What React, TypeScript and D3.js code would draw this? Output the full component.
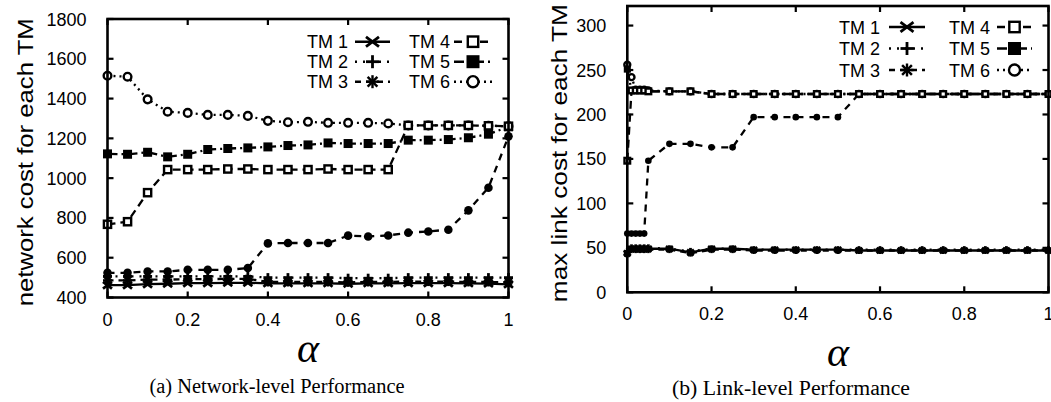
import React from "react";
import * as d3 from "d3";

// ---------- data ----------
const alphaLeft = [0, 0.05, 0.1, 0.15, 0.2, 0.25, 0.3, 0.35, 0.4, 0.45, 0.5, 0.55, 0.6, 0.65, 0.7, 0.75, 0.8, 0.85, 0.9, 0.95, 1.0];
const netTM1 = [462, 462, 467, 469, 472, 472, 474, 474, 471, 471, 471, 471, 469, 471, 471, 472, 472, 472, 471, 470, 466];
const netTM2 = [506, 506, 506, 506, 506, 506, 506, 506, 500, 500, 500, 500, 497, 497, 497, 500, 500, 500, 500, 500, 500];
const netTM3 = [486, 486, 490, 490, 492, 492, 494, 494, 478, 478, 478, 478, 476, 478, 478, 480, 480, 480, 478, 478, 476];
const netTM4 = [768, 781, 927, 1043, 1043, 1043, 1046, 1046, 1043, 1043, 1043, 1046, 1043, 1043, 1043, 1265, 1265, 1265, 1265, 1263, 1261];
const netTM5 = [1122, 1120, 1130, 1107, 1120, 1144, 1149, 1152, 1157, 1164, 1167, 1177, 1174, 1174, 1174, 1191, 1191, 1194, 1203, 1221, 1258];
const netTM6 = [1515, 1510, 1396, 1334, 1328, 1318, 1318, 1313, 1288, 1281, 1283, 1278, 1278, 1278, 1275, 1265, 1265, 1265, 1265, 1263, 1261];
const netExtra = [524, 524, 531, 531, 539, 539, 539, 548, 672, 674, 674, 674, 711, 707, 712, 726, 732, 741, 838, 952, 1210];

const alphaRight = [0, 0.01, 0.02, 0.03, 0.04, 0.05, 0.1, 0.15, 0.2, 0.25, 0.3, 0.35, 0.4, 0.45, 0.5, 0.55, 0.6, 0.65, 0.7, 0.75, 0.8, 0.85, 0.9, 0.95, 1.0];
const linkTM1 = [44, 49, 49, 49, 49, 49, 49, 45, 49, 49, 48, 48, 48, 48, 48, 47, 47, 47, 47, 47, 47, 47, 47, 47, 47];
const linkTM2 = [46, 50, 50, 50, 50, 50, 49, 46, 49, 49, 48, 48, 48, 48, 48, 48, 48, 48, 48, 48, 48, 48, 48, 48, 48];
const linkTM3 = [43, 48, 48, 48, 48, 48, 48, 44, 48, 48, 47, 47, 47, 47, 47, 47, 47, 47, 47, 47, 47, 47, 47, 47, 47];
const linkTM4 = [148, 227, 227, 227, 227, 226, 226, 226, 223, 223, 223, 223, 223, 223, 223, 223, 223, 223, 223, 223, 223, 223, 223, 223, 223];
const linkTM5 = [251, 227, 227, 227, 227, 226, 226, 226, 223, 223, 223, 223, 223, 223, 223, 223, 223, 223, 223, 223, 223, 223, 223, 223, 223];
const linkTM6 = [256, 242, 228, 228, 228, 227, 226, 226, 223, 223, 223, 223, 223, 223, 223, 223, 223, 223, 223, 223, 223, 223, 223, 223, 223];
const linkExtra = [66, 66, 66, 66, 66, 148, 167, 167, 163, 163, 197, 197, 197, 197, 197, 223, 223, 223, 223, 223, 223, 223, 223, 223, 223];

const xTicks = [0, 0.2, 0.4, 0.6, 0.8, 1];
const xTickLabels = ["0", "0.2", "0.4", "0.6", "0.8", "1"];
const yTicksLeft = [400, 600, 800, 1000, 1200, 1400, 1600, 1800];
const yTicksRight = [0, 50, 100, 150, 200, 250, 300];

const legendNames = ["TM 1", "TM 2", "TM 3", "TM 4", "TM 5", "TM 6"];

type MType = "x" | "plus" | "star" | "osq" | "fsq" | "ocirc" | "fcirc";
const styles: { m: MType; dash: string }[] = [
  { m: "x", dash: "" },
  { m: "plus", dash: "2,6" },
  { m: "star", dash: "6,5" },
  { m: "osq", dash: "8,5" },
  { m: "fsq", dash: "10,4,2,4" },
  { m: "ocirc", dash: "2,4" },
];
const extraStyle = { m: "fcirc" as MType, dash: "7,6" };

const FONT = "'Liberation Sans', Arial, Helvetica, sans-serif";
const SERIF = "'Liberation Serif', 'Times New Roman', serif";

function Marker({ t, x, y, s }: { t: MType; x: number; y: number; s: number }) {
  const h = s / 2;
  const sw = 2.4;
  switch (t) {
    case "x":
      return (
        <g stroke="#000" strokeWidth={sw + 0.4}>
          <line x1={x - h} y1={y - h * 0.75} x2={x + h} y2={y + h * 0.75} />
          <line x1={x - h} y1={y + h * 0.75} x2={x + h} y2={y - h * 0.75} />
        </g>
      );
    case "plus":
      return (
        <g stroke="#000" strokeWidth={sw + 0.4}>
          <line x1={x - h} y1={y} x2={x + h} y2={y} />
          <line x1={x} y1={y - h} x2={x} y2={y + h} />
        </g>
      );
    case "star":
      return (
        <g stroke="#000" strokeWidth={sw}>
          <line x1={x - h} y1={y} x2={x + h} y2={y} />
          <line x1={x} y1={y - h} x2={x} y2={y + h} />
          <line x1={x - h * 0.75} y1={y - h * 0.75} x2={x + h * 0.75} y2={y + h * 0.75} />
          <line x1={x - h * 0.75} y1={y + h * 0.75} x2={x + h * 0.75} y2={y - h * 0.75} />
        </g>
      );
    case "osq":
      return <rect x={x - h * 0.8} y={y - h * 0.8} width={s * 0.8} height={s * 0.8} fill="#fff" stroke="#000" strokeWidth={sw} />;
    case "fsq":
      return <rect x={x - h} y={y - h} width={s} height={s} fill="#000" />;
    case "ocirc":
      return <circle cx={x} cy={y} r={h * 0.85} fill="#fff" stroke="#000" strokeWidth={sw} />;
    case "fcirc":
      return <circle cx={x} cy={y} r={h * 0.95} fill="#000" />;
  }
}

function Series({ xs, ys, x, y, st, ms }: any) {
  const line = d3.line<number>().x((_, i) => x(xs[i])).y((v) => y(v));
  return (
    <g>
      <path d={line(ys) || ""} fill="none" stroke="#000" strokeWidth={2.3} strokeDasharray={st.dash} />
      {ys.map((v: number, i: number) => (
        <Marker key={i} t={st.m} x={x(xs[i])} y={y(v)} s={ms} />
      ))}
    </g>
  );
}

function Panel({ x, y, yTicks, xs, series, extra, ms, legend, ylabel, ylabelX, ylabelLen, tickLabelDy }: any) {
  const [x0, x1] = x.range();
  const yb = y(y.domain()[0]);
  const yt = y(y.domain()[1]);
  const tl = 6;
  return (
    <g>
      <Series xs={xs} ys={extra} x={x} y={y} st={extraStyle} ms={ms} />
      {series
        .map((s: number[], i: number) => <Series key={i} xs={xs} ys={s} x={x} y={y} st={styles[i]} ms={ms} />)
        .reverse()}
      <rect x={x0} y={yt} width={x1 - x0} height={yb - yt} fill="none" stroke="#000" strokeWidth={2.6} />
      {xTicks.map((t, i) => (
        <g key={"xt" + i}>
          <line x1={x(t)} x2={x(t)} y1={yb} y2={yb - tl} stroke="#000" strokeWidth={2.2} />
          <line x1={x(t)} x2={x(t)} y1={yt} y2={yt + tl} stroke="#000" strokeWidth={2.2} />
          <text x={x(t)} y={yb + tickLabelDy} textAnchor="middle" fontFamily={FONT} fontSize={18}>
            {xTickLabels[i]}
          </text>
        </g>
      ))}
      {yTicks.map((t: number, i: number) => (
        <g key={"yt" + i}>
          <line x1={x0} x2={x0 + tl} y1={y(t)} y2={y(t)} stroke="#000" strokeWidth={2.2} />
          <line x1={x1} x2={x1 - tl} y1={y(t)} y2={y(t)} stroke="#000" strokeWidth={2.2} />
          <text x={x0 - 21} y={y(t) + 6.5} textAnchor="end" fontFamily={FONT} fontSize={18}>
            {t}
          </text>
        </g>
      ))}
      <text
        transform={`translate(${ylabelX},${(yt + yb) / 2 + 4}) rotate(-90)`}
        textAnchor="middle"
        fontFamily={FONT}
        fontSize={22}
        textLength={ylabelLen}
        lengthAdjust="spacingAndGlyphs"
      >
        {ylabel}
      </text>
      {legendNames.map((n, i) => {
        const col = i < 3 ? 0 : 1;
        const row = i % 3;
        const L = legend.cols[col];
        const ry = legend.rows[row];
        return (
          <g key={"lg" + i}>
            <text x={L.te} y={ry + 6.5} textAnchor="end" fontFamily={FONT} fontSize={18}>
              {n}
            </text>
            <line x1={L.ls} x2={L.le} y1={ry} y2={ry} stroke="#000" strokeWidth={2.5} strokeDasharray={styles[i].dash} />
            <Marker t={styles[i].m} x={(L.ls + L.le) / 2} y={ry} s={13} />
          </g>
        );
      })}
    </g>
  );
}

export default function App() {
  const xL = d3.scaleLinear().domain([0, 1]).range([107.5, 508.5]);
  const yL = d3.scaleLinear().domain([400, 1800]).range([297.5, 19]);
  const xR = d3.scaleLinear().domain([0, 1]).range([627.3, 1048.5]);
  const yR = d3.scaleLinear().domain([0, 322]).range([292.3, 6]);
  return (
    <svg width={1051} height={402} style={{ position: "absolute", left: 0, top: 0, background: "#fff" }}>
      <rect width={1051} height={402} fill="#fff" />
      <Panel
        x={xL}
        y={yL}
        yTicks={yTicksLeft}
        xs={alphaLeft}
        series={[netTM1, netTM2, netTM3, netTM4, netTM5, netTM6]}
        extra={netExtra}
        ms={9}
        ylabel="network cost for each TM"
        ylabelX={33}
        ylabelLen={288}
        tickLabelDy={28}
        legend={{ cols: [{ te: 348, ls: 355, le: 390 }, { te: 450, ls: 454, le: 492 }], rows: [41.7, 61.7, 81.7] }}
      />
      <Panel
        x={xR}
        y={yR}
        yTicks={yTicksRight}
        xs={alphaRight}
        series={[linkTM1, linkTM2, linkTM3, linkTM4, linkTM5, linkTM6]}
        extra={linkExtra}
        ms={7}
        ylabel="max link cost for each TM"
        ylabelX={567}
        ylabelLen={298}
        tickLabelDy={28}
        legend={{ cols: [{ te: 880, ls: 889, le: 925 }, { te: 990, ls: 997, le: 1032 }], rows: [27, 48.5, 70] }}
      />
      <text x={308} y={362} textAnchor="middle" fontFamily={SERIF} fontStyle="italic" fontSize={42}>
        α
      </text>
      <text x={838} y={366} textAnchor="middle" fontFamily={SERIF} fontStyle="italic" fontSize={42}>
        α
      </text>
      <text x={277} y={393} textAnchor="middle" fontFamily={SERIF} fontSize={20} textLength={255} lengthAdjust="spacingAndGlyphs">
        (a) Network-level Performance
      </text>
      <text x={791} y={395} textAnchor="middle" fontFamily={SERIF} fontSize={20} textLength={238} lengthAdjust="spacingAndGlyphs">
        (b) Link-level Performance
      </text>
    </svg>
  );
}
